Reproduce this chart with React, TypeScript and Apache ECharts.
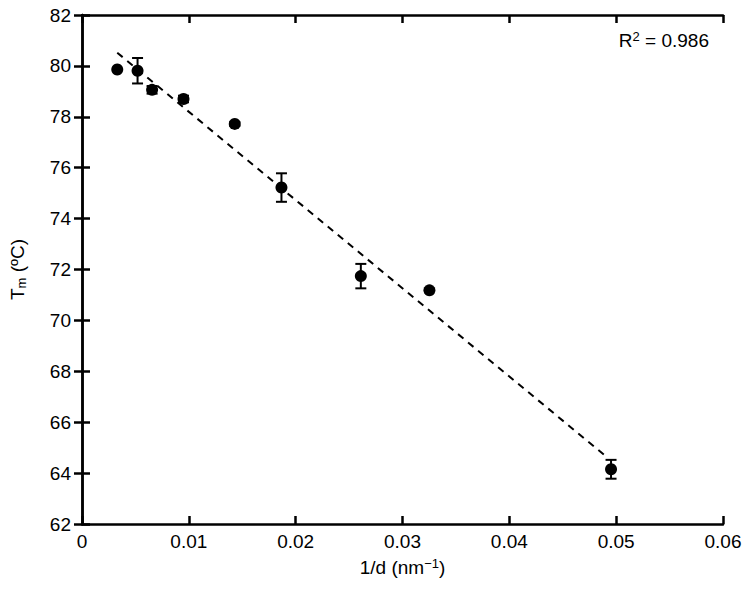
import React, { useEffect, useRef } from "react";
import * as echarts from "echarts";

const xValues = [0.0033, 0.0052, 0.00656, 0.0095, 0.0143, 0.01867, 0.0261, 0.03252, 0.04952];
const yValues = [79.86, 79.81, 79.06, 78.7, 77.72, 75.22, 71.74, 71.18, 64.15];
const yErrors = [0, 0.5, 0.15, 0.13, 0.08, 0.56, 0.48, 0, 0.37];
const fitX = [0.0033, 0.0489];
const fitY = [80.52, 64.71];
const xTicks = [0, 0.01, 0.02, 0.03, 0.04, 0.05, 0.06];
const yTicks = [62, 64, 66, 68, 70, 72, 74, 76, 78, 80, 82];

const FONT = "Liberation Sans, Arial, Helvetica, sans-serif";
const FS = 19;

export default function App() {
  const ref = useRef<HTMLDivElement>(null);
  useEffect(() => {
    if (!ref.current) return;
    const chart = echarts.init(ref.current, null, { renderer: "svg" });
    const points = xValues.map((x, i) => [x, yValues[i]]);
    const errData = xValues.map((x, i) => [x, yValues[i] - yErrors[i], yValues[i] + yErrors[i]]);
    const axisCommon = {
      axisLine: { show: true, lineStyle: { color: "#000", width: 2.5 } },
      axisTick: { show: true, inside: true, length: 8, lineStyle: { color: "#000", width: 2.5 } },
      splitLine: { show: false },
    };
    chart.setOption({
      animation: false,
      grid: { left: 76, right: 27, top: 15, bottom: 65, containLabel: false },
      xAxis: [
        {
          type: "value",
          min: xTicks[0],
          max: xTicks[xTicks.length - 1],
          interval: 0.01,
          ...axisCommon,
          axisLabel: {
            color: "#000",
            fontSize: FS,
            fontFamily: FONT,
            margin: 8,
            formatter: (v: number) => (xTicks.some((t) => Math.abs(t - v) < 1e-9) ? String(Number(v.toFixed(2))) : ""),
          },
          name: "{b|1/d (nm}{sup|−1}{b|)}",
          nameLocation: "middle",
          nameGap: 33,
          nameTextStyle: {
            color: "#000",
            fontSize: FS,
            fontFamily: FONT,
            rich: {
              b: { fontSize: FS, fontFamily: FONT, color: "#000" },
              sup: { fontSize: 13, fontFamily: FONT, color: "#000", verticalAlign: "top", padding: [0, 0, 8, 0] },
            },
          },
        },
        {
          type: "value",
          position: "top",
          min: xTicks[0],
          max: xTicks[xTicks.length - 1],
          interval: 0.01,
          ...axisCommon,
          axisLabel: { show: false },
        },
      ],
      yAxis: [
        {
          type: "value",
          min: yTicks[0],
          max: yTicks[yTicks.length - 1],
          interval: 2,
          ...axisCommon,
          axisLabel: { color: "#000", fontSize: FS, fontFamily: FONT, margin: 11 },
          name: "{b|T}{sub|m}{b| (ºC)}",
          nameLocation: "middle",
          nameRotate: 90,
          nameGap: 54,
          nameTextStyle: {
            color: "#000",
            fontSize: FS,
            fontFamily: FONT,
            rich: {
              b: { fontSize: FS, fontFamily: FONT, color: "#000" },
              sub: { fontSize: 13, fontFamily: FONT, color: "#000", verticalAlign: "bottom", padding: [8, 0, 0, 0] },
            },
          },
        },
        {
          type: "value",
          position: "right",
          min: yTicks[0],
          max: yTicks[yTicks.length - 1],
          interval: 2,
          ...axisCommon,
          axisLabel: { show: false },
        },
      ],
      graphic: [
        {
          type: "text",
          right: 41,
          top: 30,
          style: {
            text: "{b|R}{sup|2}{b| = 0.986}",
            fill: "#000",
            fontSize: FS,
            fontFamily: FONT,
            rich: {
              b: { fontSize: FS, fontFamily: FONT, fill: "#000" },
              sup: { fontSize: 13, fontFamily: FONT, fill: "#000", verticalAlign: "top", padding: [0, 0, 8, 0] },
            },
          },
        },
      ],
      series: [
        {
          type: "line",
          data: fitX.map((x, i) => [x, fitY[i]]),
          showSymbol: false,
          symbol: "none",
          lineStyle: { color: "#000", width: 2, type: [7, 6] },
          z: 2,
        },
        {
          type: "custom",
          data: errData,
          z: 3,
          renderItem: (params: any, api: any) => {
            const x = api.value(0);
            const lo = api.value(1);
            const hi = api.value(2);
            if (hi - lo < 1e-9) return { type: "group", children: [] };
            const pLo = api.coord([x, lo]);
            const pHi = api.coord([x, hi]);
            const hw = 5.5;
            const style = { stroke: "#000", lineWidth: 2 };
            return {
              type: "group",
              children: [
                { type: "line", shape: { x1: pLo[0], y1: pLo[1], x2: pHi[0], y2: pHi[1] }, style },
                { type: "line", shape: { x1: pLo[0] - hw, y1: pLo[1], x2: pLo[0] + hw, y2: pLo[1] }, style },
                { type: "line", shape: { x1: pHi[0] - hw, y1: pHi[1], x2: pHi[0] + hw, y2: pHi[1] }, style },
              ],
            };
          },
        },
        {
          type: "scatter",
          data: points,
          symbol: "circle",
          symbolSize: 12,
          itemStyle: { color: "#000", opacity: 1 },
          z: 4,
        },
      ],
    });
    return () => chart.dispose();
  }, []);
  return <div ref={ref} style={{ width: 750, height: 589, margin: -8 }} />;
}
